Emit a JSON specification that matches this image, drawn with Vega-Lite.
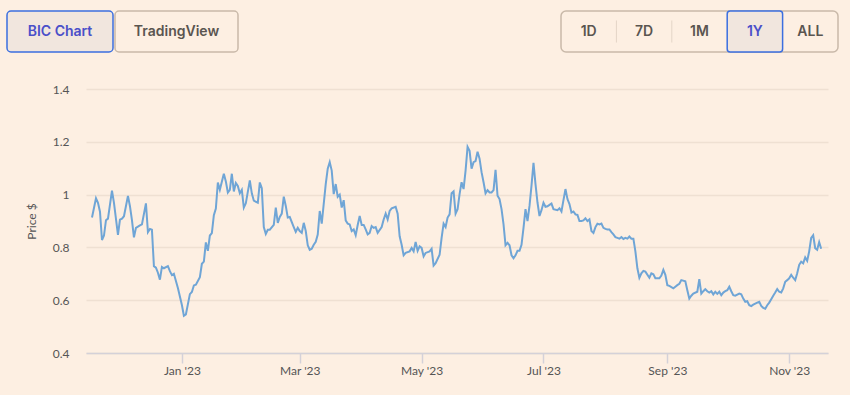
{
  "$schema": "https://vega.github.io/schema/vega-lite/v6.json",
  "background": "#fdefe2",
  "padding": {"left": 6, "top": 9, "right": 12, "bottom": 20},
  "config": {"view": {"stroke": null}, "font": "Lato"},
  "spacing": 29,
  "vconcat": [
    {
      "hconcat": [
        {
          "hconcat": [
            {
              "width": 106, "height": 41,
              "view": {"fill": "#f1e6de", "stroke": "#3b6fe0", "strokeWidth": 1.5, "cornerRadius": 4},
              "data": {"values": [{"label": "BIC Chart"}]},
              "mark": {"type": "text", "font": "Inter", "fontSize": 14, "fontWeight": 600, "color": "#4a4fc9"},
              "encoding": {"text": {"field": "label"}}
            },
            {
              "width": 123, "height": 41,
              "view": {"stroke": "#c9b9a9", "strokeWidth": 1.5, "cornerRadius": 4},
              "data": {"values": [{"label": "TradingView"}]},
              "mark": {"type": "text", "font": "Inter", "fontSize": 14, "fontWeight": 600, "color": "#5a5550"},
              "encoding": {"text": {"field": "label"}}
            }
          ],
          "spacing": 0
        },
        {
          "width": 277, "height": 41,
          "view": {"stroke": "#c9b9a9", "strokeWidth": 1.5, "cornerRadius": 5},
          "data": {"values": [
            {"label": "1D", "selected": false},
            {"label": "7D", "selected": false},
            {"label": "1M", "selected": false},
            {"label": "1Y", "selected": true},
            {"label": "ALL", "selected": false}
          ]},
          "encoding": {
            "x": {"field": "label", "type": "nominal", "sort": null,
                  "scale": {"domain": ["1D", "7D", "1M", "1Y", "ALL"], "paddingInner": 0, "paddingOuter": 0},
                  "axis": null}
          },
          "layer": [
            {
              "transform": [{"filter": "datum.selected"}],
              "mark": {"type": "rect", "fill": "#f1e6de", "stroke": "#3b6fe0", "strokeWidth": 1.5, "cornerRadius": 3}
            },
            {
              "transform": [{"filter": "datum.label == '7D' || datum.label == '1M'"}],
              "mark": {"type": "tick", "orient": "vertical", "size": 22, "thickness": 1, "color": "#d8c9bb"},
              "encoding": {"x": {"field": "label", "type": "nominal", "bandPosition": 0}}
            },
            {
              "mark": {"type": "text", "font": "Inter", "fontSize": 14, "fontWeight": 600},
              "encoding": {
                "text": {"field": "label"},
                "color": {"condition": {"test": "datum.selected", "value": "#4a4fc9"}, "value": "#5a5550"}
              }
            }
          ]
        }
      ],
      "spacing": 321
    },
    {
      "hconcat": [
        {
          "width": 1, "height": 264,
          "data": {"values": []},
          "mark": "point",
          "encoding": {}
        },
        {
          "width": 742, "height": 264,
          "data": {"values": [
{"date":"2022-11-17","price":0.913},{"date":"2022-11-19","price":0.986},{"date":"2022-11-20","price":0.969},{"date":"2022-11-21","price":0.935},{"date":"2022-11-22","price":0.828},{"date":"2022-11-23","price":0.845},{"date":"2022-11-24","price":0.903},{"date":"2022-11-25","price":0.909},{"date":"2022-11-27","price":1.015},{"date":"2022-11-28","price":0.969},{"date":"2022-11-30","price":0.847},
{"date":"2022-12-01","price":0.905},{"date":"2022-12-02","price":0.909},{"date":"2022-12-03","price":0.918},{"date":"2022-12-05","price":0.995},{"date":"2022-12-06","price":0.956},{"date":"2022-12-07","price":0.903},{"date":"2022-12-08","price":0.838},{"date":"2022-12-09","price":0.874},{"date":"2022-12-11","price":0.883},{"date":"2022-12-12","price":0.887},{"date":"2022-12-14","price":0.967},{"date":"2022-12-15","price":0.858},{"date":"2022-12-16","price":0.870},{"date":"2022-12-17","price":0.867},{"date":"2022-12-18","price":0.729},{"date":"2022-12-19","price":0.723},{"date":"2022-12-20","price":0.704},{"date":"2022-12-21","price":0.678},{"date":"2022-12-22","price":0.726},{"date":"2022-12-23","price":0.721},{"date":"2022-12-25","price":0.729},{"date":"2022-12-26","price":0.710},{"date":"2022-12-27","price":0.695},{"date":"2022-12-28","price":0.700},{"date":"2022-12-30","price":0.646},
{"date":"2023-01-01","price":0.582},{"date":"2023-01-02","price":0.541},{"date":"2023-01-03","price":0.546},{"date":"2023-01-05","price":0.623},{"date":"2023-01-06","price":0.631},{"date":"2023-01-07","price":0.656},{"date":"2023-01-08","price":0.659},{"date":"2023-01-10","price":0.687},{"date":"2023-01-11","price":0.738},{"date":"2023-01-12","price":0.746},{"date":"2023-01-13","price":0.819},{"date":"2023-01-14","price":0.787},{"date":"2023-01-15","price":0.845},{"date":"2023-01-16","price":0.854},{"date":"2023-01-17","price":0.922},{"date":"2023-01-18","price":0.947},{"date":"2023-01-19","price":1.046},{"date":"2023-01-20","price":1.018},{"date":"2023-01-22","price":1.079},{"date":"2023-01-23","price":1.050},{"date":"2023-01-24","price":1.008},{"date":"2023-01-25","price":1.018},{"date":"2023-01-26","price":1.079},{"date":"2023-01-27","price":1.012},{"date":"2023-01-28","price":1.044},{"date":"2023-01-29","price":1.033},{"date":"2023-01-30","price":1.005},{"date":"2023-01-31","price":1.018},
{"date":"2023-02-01","price":0.951},{"date":"2023-02-02","price":0.967},{"date":"2023-02-04","price":1.054},{"date":"2023-02-05","price":1.005},{"date":"2023-02-06","price":0.977},{"date":"2023-02-08","price":0.969},{"date":"2023-02-09","price":1.046},{"date":"2023-02-10","price":1.024},{"date":"2023-02-11","price":0.877},{"date":"2023-02-12","price":0.851},{"date":"2023-02-13","price":0.867},{"date":"2023-02-14","price":0.867},{"date":"2023-02-16","price":0.885},{"date":"2023-02-17","price":0.951},{"date":"2023-02-18","price":0.893},{"date":"2023-02-19","price":0.915},{"date":"2023-02-20","price":0.928},{"date":"2023-02-21","price":0.992},{"date":"2023-02-22","price":0.957},{"date":"2023-02-23","price":0.913},{"date":"2023-02-24","price":0.915},{"date":"2023-02-26","price":0.877},{"date":"2023-02-27","price":0.859},{"date":"2023-02-28","price":0.874},
{"date":"2023-03-01","price":0.862},{"date":"2023-03-02","price":0.855},{"date":"2023-03-03","price":0.893},{"date":"2023-03-04","price":0.862},{"date":"2023-03-05","price":0.808},{"date":"2023-03-06","price":0.791},{"date":"2023-03-07","price":0.795},{"date":"2023-03-08","price":0.810},{"date":"2023-03-09","price":0.821},{"date":"2023-03-10","price":0.849},{"date":"2023-03-11","price":0.938},{"date":"2023-03-12","price":0.890},{"date":"2023-03-14","price":1.040},{"date":"2023-03-15","price":1.098},{"date":"2023-03-16","price":1.123},{"date":"2023-03-17","price":1.091},{"date":"2023-03-18","price":1.002},{"date":"2023-03-19","price":1.040},{"date":"2023-03-20","price":0.992},{"date":"2023-03-21","price":1.000},{"date":"2023-03-22","price":0.951},{"date":"2023-03-23","price":0.979},{"date":"2023-03-24","price":0.902},{"date":"2023-03-25","price":0.890},{"date":"2023-03-26","price":0.887},{"date":"2023-03-27","price":0.862},{"date":"2023-03-28","price":0.868},{"date":"2023-03-29","price":0.846},{"date":"2023-03-30","price":0.885},{"date":"2023-03-31","price":0.919},
{"date":"2023-04-01","price":0.885},{"date":"2023-04-02","price":0.885},{"date":"2023-04-03","price":0.868},{"date":"2023-04-04","price":0.849},{"date":"2023-04-05","price":0.855},{"date":"2023-04-06","price":0.881},{"date":"2023-04-07","price":0.874},{"date":"2023-04-08","price":0.877},{"date":"2023-04-09","price":0.855},{"date":"2023-04-11","price":0.877},{"date":"2023-04-12","price":0.906},{"date":"2023-04-13","price":0.928},{"date":"2023-04-14","price":0.906},{"date":"2023-04-15","price":0.938},{"date":"2023-04-16","price":0.948},{"date":"2023-04-18","price":0.954},{"date":"2023-04-19","price":0.928},{"date":"2023-04-20","price":0.842},{"date":"2023-04-21","price":0.810},{"date":"2023-04-22","price":0.770},{"date":"2023-04-23","price":0.779},{"date":"2023-04-25","price":0.785},{"date":"2023-04-26","price":0.798},{"date":"2023-04-27","price":0.785},{"date":"2023-04-28","price":0.821},{"date":"2023-04-29","price":0.787},{"date":"2023-04-30","price":0.804},
{"date":"2023-05-01","price":0.798},{"date":"2023-05-02","price":0.766},{"date":"2023-05-03","price":0.779},{"date":"2023-05-05","price":0.785},{"date":"2023-05-06","price":0.795},{"date":"2023-05-07","price":0.731},{"date":"2023-05-08","price":0.740},{"date":"2023-05-10","price":0.772},{"date":"2023-05-11","price":0.836},{"date":"2023-05-12","price":0.890},{"date":"2023-05-13","price":0.877},{"date":"2023-05-14","price":0.913},{"date":"2023-05-15","price":0.925},{"date":"2023-05-16","price":1.005},{"date":"2023-05-17","price":1.012},{"date":"2023-05-18","price":0.928},{"date":"2023-05-19","price":0.945},{"date":"2023-05-20","price":1.002},{"date":"2023-05-21","price":1.047},{"date":"2023-05-22","price":1.021},{"date":"2023-05-23","price":1.091},{"date":"2023-05-24","price":1.181},{"date":"2023-05-25","price":1.166},{"date":"2023-05-26","price":1.098},{"date":"2023-05-27","price":1.123},{"date":"2023-05-28","price":1.127},{"date":"2023-05-29","price":1.162},{"date":"2023-05-30","price":1.136},{"date":"2023-05-31","price":1.085},
{"date":"2023-06-01","price":1.047},{"date":"2023-06-02","price":1.005},{"date":"2023-06-03","price":1.017},{"date":"2023-06-04","price":1.008},{"date":"2023-06-05","price":1.008},{"date":"2023-06-06","price":1.017},{"date":"2023-06-07","price":1.094},{"date":"2023-06-08","price":0.996},{"date":"2023-06-09","price":0.983},{"date":"2023-06-10","price":0.945},{"date":"2023-06-11","price":0.887},{"date":"2023-06-12","price":0.808},{"date":"2023-06-13","price":0.817},{"date":"2023-06-14","price":0.808},{"date":"2023-06-15","price":0.770},{"date":"2023-06-16","price":0.759},{"date":"2023-06-17","price":0.770},{"date":"2023-06-18","price":0.787},{"date":"2023-06-19","price":0.787},{"date":"2023-06-20","price":0.810},{"date":"2023-06-21","price":0.874},{"date":"2023-06-22","price":0.945},{"date":"2023-06-23","price":0.900},{"date":"2023-06-24","price":0.957},{"date":"2023-06-25","price":1.034},{"date":"2023-06-26","price":1.120},{"date":"2023-06-27","price":1.040},{"date":"2023-06-28","price":0.970},{"date":"2023-06-29","price":0.919},{"date":"2023-06-30","price":0.941},
{"date":"2023-07-01","price":0.969},{"date":"2023-07-02","price":0.954},{"date":"2023-07-03","price":0.956},{"date":"2023-07-04","price":0.961},{"date":"2023-07-05","price":0.966},{"date":"2023-07-06","price":0.945},{"date":"2023-07-08","price":0.941},{"date":"2023-07-09","price":0.948},{"date":"2023-07-10","price":0.936},{"date":"2023-07-11","price":0.979},{"date":"2023-07-12","price":1.021},{"date":"2023-07-13","price":0.983},{"date":"2023-07-14","price":0.964},{"date":"2023-07-15","price":0.932},{"date":"2023-07-16","price":0.936},{"date":"2023-07-17","price":0.925},{"date":"2023-07-18","price":0.923},{"date":"2023-07-19","price":0.900},{"date":"2023-07-20","price":0.900},{"date":"2023-07-21","price":0.902},{"date":"2023-07-22","price":0.910},{"date":"2023-07-23","price":0.900},{"date":"2023-07-24","price":0.906},{"date":"2023-07-25","price":0.862},{"date":"2023-07-26","price":0.855},{"date":"2023-07-27","price":0.877},{"date":"2023-07-28","price":0.890},{"date":"2023-07-29","price":0.887},{"date":"2023-07-30","price":0.890},{"date":"2023-07-31","price":0.874},
{"date":"2023-08-01","price":0.870},{"date":"2023-08-02","price":0.868},{"date":"2023-08-03","price":0.868},{"date":"2023-08-04","price":0.858},{"date":"2023-08-05","price":0.849},{"date":"2023-08-06","price":0.839},{"date":"2023-08-07","price":0.836},{"date":"2023-08-08","price":0.833},{"date":"2023-08-09","price":0.839},{"date":"2023-08-10","price":0.832},{"date":"2023-08-11","price":0.836},{"date":"2023-08-12","price":0.833},{"date":"2023-08-13","price":0.841},{"date":"2023-08-14","price":0.833},{"date":"2023-08-15","price":0.833},{"date":"2023-08-16","price":0.785},{"date":"2023-08-17","price":0.721},{"date":"2023-08-18","price":0.685},{"date":"2023-08-19","price":0.702},{"date":"2023-08-20","price":0.711},{"date":"2023-08-21","price":0.708},{"date":"2023-08-23","price":0.685},{"date":"2023-08-24","price":0.702},{"date":"2023-08-25","price":0.698},{"date":"2023-08-26","price":0.683},{"date":"2023-08-28","price":0.683},{"date":"2023-08-29","price":0.693},{"date":"2023-08-30","price":0.715},{"date":"2023-08-31","price":0.696},
{"date":"2023-09-01","price":0.657},{"date":"2023-09-02","price":0.654},{"date":"2023-09-04","price":0.645},{"date":"2023-09-05","price":0.651},{"date":"2023-09-06","price":0.657},{"date":"2023-09-07","price":0.662},{"date":"2023-09-08","price":0.676},{"date":"2023-09-10","price":0.672},{"date":"2023-09-11","price":0.638},{"date":"2023-09-12","price":0.606},{"date":"2023-09-13","price":0.617},{"date":"2023-09-14","price":0.625},{"date":"2023-09-16","price":0.632},{"date":"2023-09-17","price":0.680},{"date":"2023-09-18","price":0.625},{"date":"2023-09-19","price":0.634},{"date":"2023-09-20","price":0.642},{"date":"2023-09-21","price":0.634},{"date":"2023-09-22","price":0.629},{"date":"2023-09-23","price":0.634},{"date":"2023-09-24","price":0.622},{"date":"2023-09-25","price":0.632},{"date":"2023-09-26","price":0.624},{"date":"2023-09-27","price":0.632},{"date":"2023-09-28","price":0.619},{"date":"2023-09-29","price":0.629},{"date":"2023-09-30","price":0.634},
{"date":"2023-10-01","price":0.638},{"date":"2023-10-02","price":0.651},{"date":"2023-10-03","price":0.634},{"date":"2023-10-04","price":0.619},{"date":"2023-10-05","price":0.617},{"date":"2023-10-07","price":0.625},{"date":"2023-10-08","price":0.622},{"date":"2023-10-09","price":0.606},{"date":"2023-10-10","price":0.594},{"date":"2023-10-11","price":0.596},{"date":"2023-10-12","price":0.581},{"date":"2023-10-13","price":0.578},{"date":"2023-10-14","price":0.583},{"date":"2023-10-15","price":0.587},{"date":"2023-10-16","price":0.591},{"date":"2023-10-17","price":0.594},{"date":"2023-10-18","price":0.578},{"date":"2023-10-19","price":0.571},{"date":"2023-10-20","price":0.568},{"date":"2023-10-21","price":0.581},{"date":"2023-10-22","price":0.591},{"date":"2023-10-23","price":0.604},{"date":"2023-10-24","price":0.617},{"date":"2023-10-25","price":0.629},{"date":"2023-10-26","price":0.642},{"date":"2023-10-27","price":0.632},{"date":"2023-10-28","price":0.629},{"date":"2023-10-29","price":0.645},{"date":"2023-10-30","price":0.670},{"date":"2023-10-31","price":0.676},
{"date":"2023-11-01","price":0.683},{"date":"2023-11-02","price":0.696},{"date":"2023-11-03","price":0.685},{"date":"2023-11-04","price":0.676},{"date":"2023-11-05","price":0.702},{"date":"2023-11-06","price":0.734},{"date":"2023-11-07","price":0.746},{"date":"2023-11-08","price":0.740},{"date":"2023-11-09","price":0.762},{"date":"2023-11-10","price":0.749},{"date":"2023-11-11","price":0.785},{"date":"2023-11-12","price":0.836},{"date":"2023-11-13","price":0.846},{"date":"2023-11-14","price":0.797},{"date":"2023-11-15","price":0.791},{"date":"2023-11-16","price":0.820},{"date":"2023-11-17","price":0.795}
          ]},
          "mark": {"type": "line", "color": "#6fa5d6", "strokeWidth": 2},
          "encoding": {
            "x": {
              "field": "date", "type": "temporal",
              "scale": {"type": "utc", "domain": [
                {"year": 2022, "month": 11, "date": 14, "utc": true},
                {"year": 2023, "month": 11, "date": 20, "hours": 10, "utc": true}
              ]},
              "axis": {
                "title": null,
                "values": [
                  {"year": 2023, "month": 1, "date": 1, "utc": true},
                  {"year": 2023, "month": 3, "date": 1, "utc": true},
                  {"year": 2023, "month": 5, "date": 1, "utc": true},
                  {"year": 2023, "month": 7, "date": 1, "utc": true},
                  {"year": 2023, "month": 9, "date": 1, "utc": true},
                  {"year": 2023, "month": 11, "date": 1, "utc": true}
                ],
                "labelExpr": "utcFormat(datum.value, \"%b '%y\")",
                "grid": false,
                "domainColor": "#d4d1d8", "domainWidth": 1.5,
                "tickColor": "#d4d1d8", "tickSize": 10, "tickWidth": 1.5,
                "labelColor": "#555555", "labelFontSize": 12, "labelPadding": 2
              }
            },
            "y": {
              "field": "price", "type": "quantitative",
              "scale": {"domain": [0.4, 1.4], "nice": false, "zero": false},
              "axis": {
                "title": "Price $",
                "values": [0.4, 0.6, 0.8, 1, 1.2, 1.4],
                "format": "~g",
                "domain": false, "ticks": false,
                "gridColor": "#efe0d2", "gridWidth": 1.5,
                "labelColor": "#555555", "labelFontSize": 12, "labelPadding": 17,
                "titleColor": "#555555", "titleFontSize": 12, "titleFontWeight": "normal", "titlePadding": 14
              }
            }
          }
        }
      ],
      "spacing": 17
    }
  ]
}
